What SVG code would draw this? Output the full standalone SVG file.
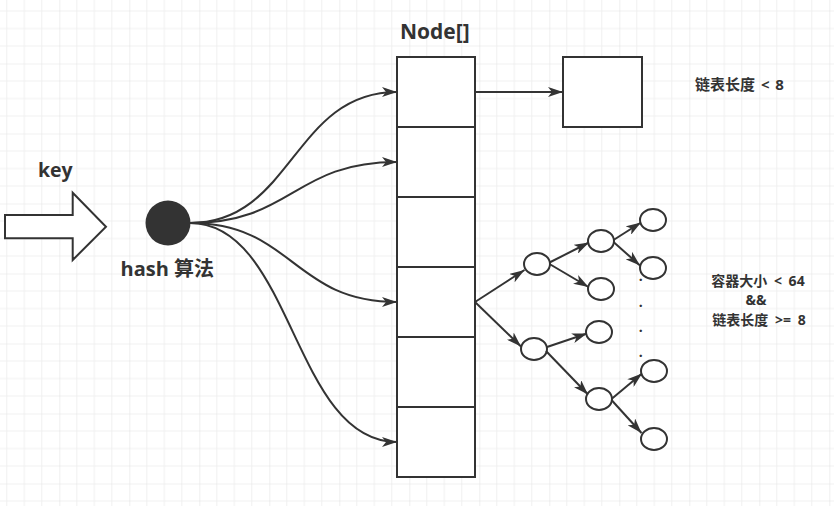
<svg xmlns="http://www.w3.org/2000/svg" width="834" height="506" viewBox="0 0 834 506">
<defs>
<pattern id="grid" patternUnits="userSpaceOnUse" x="-10.7" y="-6.5" width="70" height="70">
<path d="M17.5,0V70M35,0V70M52.5,0V70M0,17.5H70M0,35H70M0,52.5H70" stroke="#f0f0f0" stroke-width="1" fill="none"/>
<path d="M0,0V70M0,0H70" stroke="#e4e4e4" stroke-width="1.2" fill="none"/>
</pattern>
<marker id="arr" markerUnits="userSpaceOnUse" markerWidth="15" markerHeight="10" refX="15" refY="5" orient="auto" viewBox="0 0 15 10">
<path d="M0,0 L15,5 L0,10 L4,5 Z" fill="#333"/>
</marker>
</defs>
<style>
.box{fill:#fff;stroke:#333;stroke-width:2}
.ell{fill:#fff;stroke:#333;stroke-width:2}
.edge{fill:none;stroke:#333;stroke-width:2;marker-end:url(#arr)}
.t{font-family:"Open Sans","Noto Sans CJK SC",sans-serif;font-weight:bold;fill:#333}
.s{font-size:15px;word-spacing:2px}
.s2{font-size:14px;word-spacing:3px}
</style>
<rect width="834" height="506" fill="#fff"/>
<rect width="834" height="506" fill="url(#grid)"/>

<g id="key-arrow">
<polygon class="box" points="5,215 72.7,215 72.7,192.7 106,226.7 72.7,260 72.7,238.3 5,238.3"/>
<text class="t" x="38" y="177" font-size="19.5">key</text>
</g>

<g id="hash">
<circle cx="168" cy="223" r="22.5" fill="#333"/>
<text class="t" x="120.5" y="276" font-size="20">hash 算法</text>
</g>

<g id="node-array-label">
<text class="t" x="400" y="39" font-size="21">Node[]</text>
</g>
<g id="cell0"><rect class="box" x="397" y="57" width="78" height="70"/></g>
<g id="cell1"><rect class="box" x="397" y="127" width="78" height="70"/></g>
<g id="cell2"><rect class="box" x="397" y="197" width="78" height="70"/></g>
<g id="cell3"><rect class="box" x="397" y="267" width="78" height="70"/></g>
<g id="cell4"><rect class="box" x="397" y="337" width="78" height="70"/></g>
<g id="cell5"><rect class="box" x="397" y="407" width="78" height="70"/></g>

<g id="list-node"><rect class="box" x="563" y="57" width="79" height="70"/></g>

<g id="label-list"><text class="t s" x="695" y="90">链表长度 &lt; 8</text></g>
<g id="label-tree">
<text class="t s2" text-anchor="middle"><tspan x="758" y="285.5">容器大小 &lt; 64</tspan><tspan x="756" y="305">&amp;&amp;</tspan><tspan x="759" y="324.5">链表长度 &gt;= 8</tspan></text>
</g>

<g id="tA"><ellipse class="ell" cx="537" cy="264" rx="13" ry="11"/></g>
<g id="tB"><ellipse class="ell" cx="534" cy="349" rx="13" ry="11"/></g>
<g id="tC"><ellipse class="ell" cx="601" cy="241" rx="13" ry="11"/></g>
<g id="tD"><ellipse class="ell" cx="601" cy="289" rx="13" ry="11"/></g>
<g id="tE"><ellipse class="ell" cx="599" cy="332" rx="13" ry="11"/></g>
<g id="tF"><ellipse class="ell" cx="599" cy="399" rx="13" ry="11"/></g>
<g id="tG"><ellipse class="ell" cx="653" cy="220" rx="13" ry="11"/></g>
<g id="tH"><ellipse class="ell" cx="653" cy="268" rx="13" ry="11"/></g>
<g id="tI"><ellipse class="ell" cx="654" cy="371" rx="13" ry="11"/></g>
<g id="tJ"><ellipse class="ell" cx="654" cy="439" rx="13" ry="11"/></g>

<g id="dots">
<text class="t" font-size="14" text-anchor="middle"><tspan x="640.7" y="280.5">.</tspan><tspan x="640.7" y="306.5">.</tspan><tspan x="640.7" y="332">.</tspan><tspan x="640.7" y="356.5">.</tspan></text>
</g>

<g id="connectors">
<path class="edge" d="M190,223 C293,223 293,92 397,92"/>
<path class="edge" d="M190,223 C293,223 293,162 397,162"/>
<path class="edge" d="M190,223 C293,223 293,302 397,302"/>
<path class="edge" d="M190,223 C293,223 293,442 397,442"/>
<path class="edge" d="M475,92 L563,92"/>
<path class="edge" d="M475,302 L524.5,270"/>
<path class="edge" d="M475,302 L521,346.5"/>
<path class="edge" d="M549.5,262.5 L589,242.5"/>
<path class="edge" d="M549.5,264 L588.5,287"/>
<path class="edge" d="M613.5,240 L641,222.5"/>
<path class="edge" d="M613.5,242 L640,265.5"/>
<path class="edge" d="M547,347 L587,333.5"/>
<path class="edge" d="M546,351 L588,394.5"/>
<path class="edge" d="M611.5,399 L642,373.5"/>
<path class="edge" d="M611.5,400 L641.5,433"/>
</g>
</svg>
